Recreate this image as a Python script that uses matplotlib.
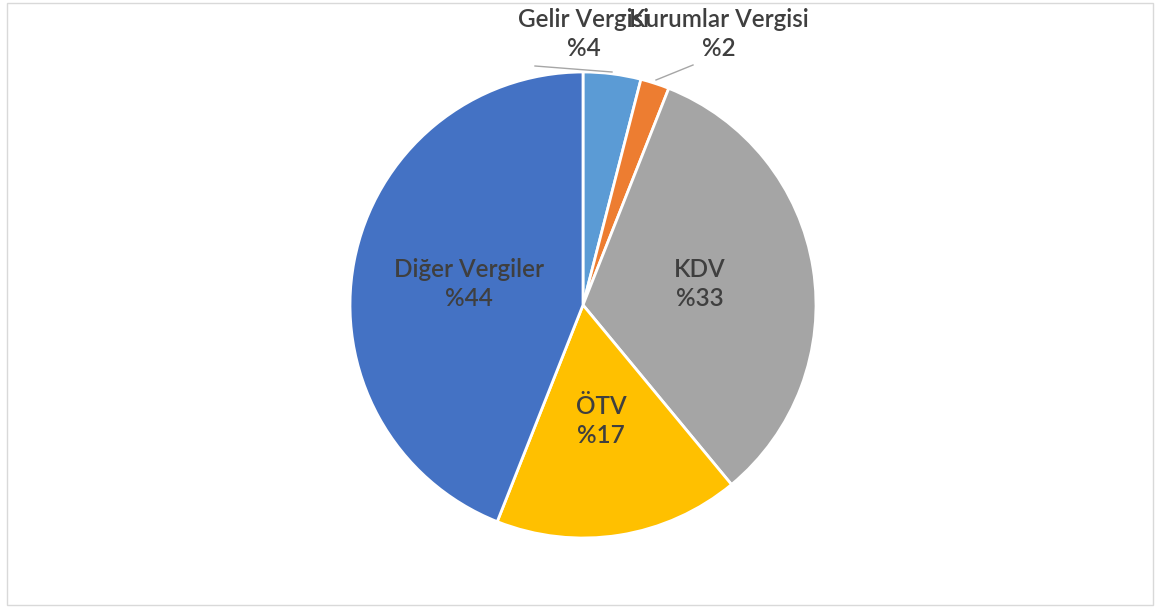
import matplotlib.pyplot as plt
from matplotlib.patches import Rectangle

labels = ["Gelir Vergisi", "Kurumlar Vergisi", "KDV", "ÖTV", "Diğer Vergiler"]
shares = [4, 2, 33, 17, 44]
colors = ["#5B9BD5", "#ED7D31", "#A5A5A5", "#FFC000", "#4472C4"]

W, H = 1156, 607
fig = plt.figure(figsize=(W / 100, H / 100), dpi=100)
ax = fig.add_axes([0, 0, 1, 1])

cx, cy, r = 583, H - 305, 233
ax.pie(shares, colors=colors, startangle=90, counterclock=False,
       center=(cx, cy), radius=r, frame=True,
       wedgeprops=dict(edgecolor="white", linewidth=2))
ax.set_xlim(0, W)
ax.set_ylim(0, H)
ax.axis("off")

# chart border
ax.add_patch(Rectangle((6.5, H - 605), 1146, 602, fill=False,
                       edgecolor="#D9D9D9", linewidth=1))

font = dict(family=["Lato", "DejaVu Sans"], fontsize=17.5, fontweight="semibold",
            color="#3F3F3F", ha="center", va="center", linespacing=1.32)

# inside labels
inside = {2: (700, 284), 3: (601, 421), 4: (469, 284)}
for i, (x, y) in inside.items():
    ax.text(x, H - y, f"{labels[i]}\n%{shares[i]}", **font)

# outside labels with leader lines
ax.text(584, H - 34, f"{labels[0]}\n%{shares[0]}", **font)
ax.text(719, H - 34, f"{labels[1]}\n%{shares[1]}", **font)
ax.plot([535, 612], [H - 66, H - 72], color="#A6A6A6", linewidth=1)
ax.plot([656, 693], [H - 80, H - 65], color="#A6A6A6", linewidth=1)

fig.savefig("out.png", dpi=100, facecolor="white")
